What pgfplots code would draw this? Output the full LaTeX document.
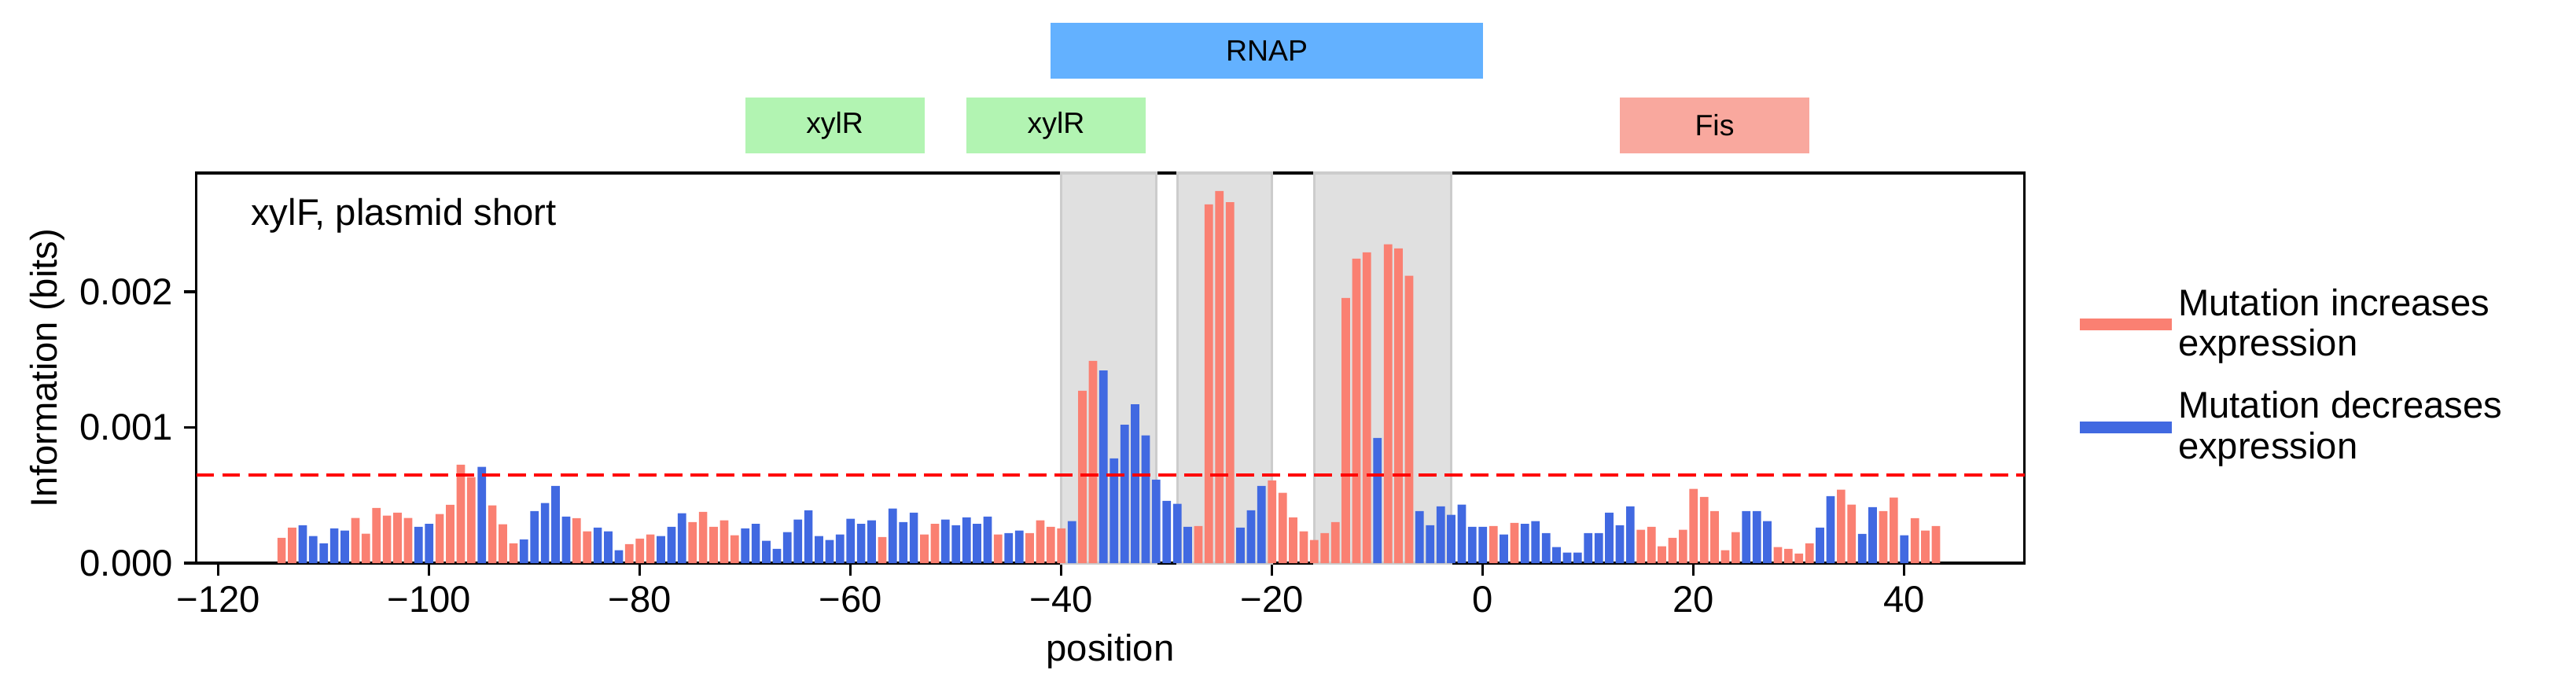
\documentclass[border=0pt]{standalone}
\usepackage{fontspec}
\setmainfont{Liberation Sans}
\usepackage{pgfplots}
\pgfplotsset{compat=1.18}
\definecolor{salm}{HTML}{FA8072}
\definecolor{royal}{HTML}{4169E1}
\definecolor{rnap}{HTML}{63B1FF}
\definecolor{xylr}{HTML}{B2F4B2}
\definecolor{fis}{HTML}{F9A89E}
\definecolor{shade}{HTML}{E0E0E0}
\begin{document}
\begin{tikzpicture}[font=\fontsize{12}{14}\selectfont]
\begin{axis}[
  scale only axis, width=590.6pt, height=126pt,
  xmin=-122.1, xmax=51.4, ymin=0, ymax=0.002875,
  clip=false,
  xtick={-120,-100,-80,-60,-40,-20,0,20,40},
  xticklabels={−120,−100,−80,−60,−40,−20,0,20,40},
  ytick={0,0.001,0.002},
  yticklabels={0.000,0.001,0.002},
  scaled y ticks=false,
  tick align=outside, tick pos=left,
  major tick length=4pt,
  every tick/.style={black, line width=0.8pt},
  axis line style={line width=0.8pt},
  xlabel={position}, ylabel={Information (bits)},
  ylabel style={yshift=-2pt},
  legend style={at={(1.025,0.48)}, anchor=west, draw=none, fill=none,
    nodes={align=left, font=\fontsize{12}{13}\selectfont}, row sep=6pt},
  legend cell align=left,
  ybar, bar width=0.8, bar shift=0pt,
]
\addplot[fill=shade, draw=black!20, line width=0.8pt, forget plot, sharp plot] coordinates {(-40,0)(-40,0.002875)(-31,0.002875)(-31,0)} -- cycle;
\addplot[fill=shade, draw=black!20, line width=0.8pt, forget plot, sharp plot] coordinates {(-29,0)(-29,0.002875)(-20,0.002875)(-20,0)} -- cycle;
\addplot[fill=shade, draw=black!20, line width=0.8pt, forget plot, sharp plot] coordinates {(-16,0)(-16,0.002875)(-3,0.002875)(-3,0)} -- cycle;
\addplot[fill=salm, draw=none, legend image code/.code={\fill[salm] (0pt,-1.9pt) rectangle (29.7pt,1.9pt);}] coordinates {
(-114,.000187)(-113,.000262)(-107,.000333)(-106,.000217)(-105,.000407)(-104,.00035)(-103,.000372)(-102,.000333)(-99,.000362)(-98,.00043)(-97,.000726)(-96,.000634)(-94,.000425)(-93,.000287)(-92,.000146)(-86,.000331)(-85,.000234)(-81,.00014)(-80,.000181)(-79,.000211)(-75,.000303)(-74,.000378)(-73,.000268)(-72,.000315)(-71,.000205)(-57,.000193)(-53,.000211)(-52,.00029)(-46,.000211)(-43,.000222)(-42,.000315)(-41,.000268)(-40,.000256)(-38,.00127)(-37,.00149)(-27,.000274)(-26,.002644)(-25,.002742)(-24,.00266)(-20,.00061)(-19,.000518)(-18,.000337)(-17,.000234)(-16,.000171)(-15,.000222)(-14,.000303)(-13,.001955)(-12,.002244)(-11,.002291)(-9,.00235)(-8,.002319)(-7,.002118)(1,.000274)(3,.000297)(15,.000246)(16,.000268)(17,.000124)(18,.000187)(19,.000246)(20,.000547)(21,.000488)(22,.000384)(23,.0000955)(24,.000228)(28,.000118)(29,.000106)(30,.0000711)(31,.000146)(34,.000541)(35,.000431)(38,.000384)(39,.000484)(41,.000331)(42,.00024)(43,.000274)};
\addlegendentry{Mutation increases\\expression}
\addplot[fill=royal, draw=none, legend image code/.code={\fill[royal] (0pt,-1.9pt) rectangle (29.7pt,1.9pt);}] coordinates {
(-112,.00028)(-111,.0002)(-110,.000146)(-109,.000256)(-108,.00024)(-101,.000268)(-100,.00029)(-95,.000709)(-91,.000175)(-90,.000384)(-89,.000443)(-88,.000569)(-87,.000343)(-84,.000262)(-83,.000234)(-82,.0000955)(-78,.0002)(-77,.000268)(-76,.000368)(-70,.000256)(-69,.00029)(-68,.000165)(-67,.000106)(-66,.000228)(-65,.000321)(-64,.00039)(-63,.0002)(-62,.000171)(-61,.000211)(-60,.000327)(-59,.00029)(-58,.000315)(-56,.000402)(-55,.000303)(-54,.000372)(-51,.000321)(-50,.00028)(-49,.000337)(-48,.00029)(-47,.000343)(-45,.000222)(-44,.00024)(-39,.000309)(-36,.00142)(-35,.000772)(-34,.00102)(-33,.00117)(-32,.000941)(-31,.000616)(-30,.000459)(-29,.000437)(-28,.000268)(-23,.000262)(-22,.00039)(-21,.000569)(-10,.000923)(-6,.000384)(-5,.00028)(-4,.000419)(-3,.000356)(-2,.000431)(-1,.000268)(0,.000268)(2,.000211)(4,.00029)(5,.000309)(6,.000222)(7,.000118)(8,.0000772)(9,.0000772)(10,.000222)(11,.000222)(12,.000372)(13,.00028)(14,.000419)(25,.000384)(26,.000384)(27,.000309)(32,.000262)(33,.000494)(36,.000215)(37,.000413)(40,.000205)};
\addlegendentry{Mutation decreases\\expression}
\addplot[sharp plot, red, line width=1pt, dash pattern=on 5.8pt off 2.6pt, forget plot] coordinates {(-122.1,0.000652)(51.4,0.000652)};
\node[anchor=west] at (rel axis cs:0.024,0.89) {xylF, plasmid short};
\fill[rnap] (axis cs:-41,0.003571) rectangle (axis cs:0,0.003982);
\node[font=\fontsize{9.5}{11}\selectfont] at (axis cs:-20.5,0.0037765) {RNAP};
\fill[xylr] (axis cs:-70,0.003020) rectangle (axis cs:-53,0.003431);
\node[font=\fontsize{9.5}{11}\selectfont] at (axis cs:-61.5,0.0032255) {xylR};
\fill[xylr] (axis cs:-49,0.003020) rectangle (axis cs:-32,0.003431);
\node[font=\fontsize{9.5}{11}\selectfont] at (axis cs:-40.5,0.0032255) {xylR};
\fill[fis] (axis cs:13,0.003020) rectangle (axis cs:31,0.003431);
\node[font=\fontsize{9.5}{11}\selectfont] at (axis cs:22,0.0032255) {Fis};
\end{axis}
\pgfresetboundingbox
\path (current axis.south west) ++(-63.4pt,-42.85pt) coordinate (bl);
\path (current axis.north east) ++(178.2pt,55.9pt) coordinate (tr);
\path[use as bounding box] (bl) rectangle (tr);
\end{tikzpicture}
\end{document}
